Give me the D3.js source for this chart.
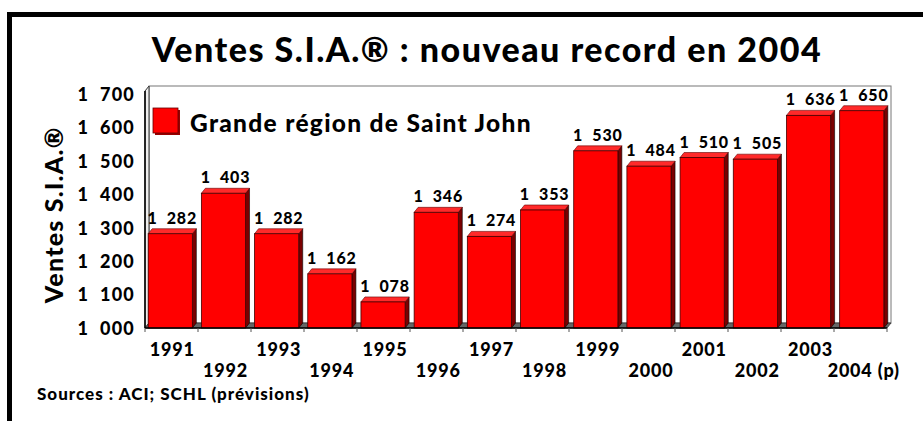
<!DOCTYPE html>
<html>
<head>
<meta charset="utf-8">
<script src="https://cdn.jsdelivr.net/npm/d3@7"></script>
<style>
  body { margin: 0; background: #fff; }
  text { font-family: Lato, "Open Sans", sans-serif; font-weight: 900; fill: #000; }
</style>
</head>
<body>
<div id="chart"></div>
<script>
// data
var years = ["1991", "1992", "1993", "1994", "1995", "1996", "1997",
             "1998", "1999", "2000", "2001", "2002", "2003", "2004 (p)"]
var sales = [1282, 1403, 1282, 1162, 1078, 1346, 1274,
             1353, 1530, 1484, 1510, 1505, 1636, 1650]
var yTicks = [1000, 1100, 1200, 1300, 1400, 1500, 1600, 1700]

var width = 923
    height = 421
    dx = 4      // depth of the 3d effect
    dy = 5

// space as thousands separator, like the original
function fmt(v) {
	var s = String(v)
	return s.slice(0, 1) + "\u00a0\u00a0" + s.slice(1)
}

var svg = d3.select("#chart")
	.append("svg")
	.attr("width", width)
	.attr("height", height)

// outer frame
svg.append("rect")
	.attr("x", 9.5).attr("y", 14.5)
	.attr("width", 940).attr("height", 430)
	.attr("fill", "none")
	.attr("stroke", "black")
	.attr("stroke-width", 5)

var x = d3.scaleBand()
	.domain(years)
	.range([145, 887])
	.paddingInner(0.17)
	.paddingOuter(0.06)

var y = d3.scaleLinear()
	.domain([1000, 1700])
	.range([328, 94])

var x0 = 145, x1 = 887, yb = y(1000), yt = 86

// back wall
svg.append("rect")
	.attr("x", x0 + dx).attr("y", yt)
	.attr("width", x1 - x0).attr("height", yb - dy - yt)
	.attr("fill", "white")
	.attr("stroke", "#777")
	.attr("stroke-width", 1)

// left wall
svg.append("path")
	.attr("d", "M" + x0 + "," + yb + "L" + x0 + "," + (yt + dy) + "L" + (x0 + dx) + "," + yt + "L" + (x0 + dx) + "," + (yb - dy) + "Z")
	.attr("fill", "#eee")
	.attr("stroke", "#333")
	.attr("stroke-width", 1)

// floor
svg.append("path")
	.attr("d", "M" + x0 + "," + yb + "L" + x1 + "," + yb + "L" + (x1 + dx) + "," + (yb - dy) + "L" + (x0 + dx) + "," + (yb - dy) + "Z")
	.attr("fill", "#666")
	.attr("stroke", "#333")
	.attr("stroke-width", 0.8)

var bars = svg.selectAll(".bar")
	.data(years)
	.enter()
	.append("g")
	.attr("class", "bar")

// side face
bars.append("path")
	.attr("d", function(d, i) {
		var xr = x(d) + x.bandwidth(), yv = y(sales[i])
		return "M" + xr + "," + yb + "L" + xr + "," + yv + "L" + (xr + dx) + "," + (yv - dy) + "L" + (xr + dx) + "," + (yb - dy) + "Z"
	})
	.attr("fill", "#7a0000")
	.attr("stroke", "#000")
	.attr("stroke-width", 0.6)

// top face
bars.append("path")
	.attr("d", function(d, i) {
		var xl = x(d), xr = xl + x.bandwidth(), yv = y(sales[i])
		return "M" + xl + "," + yv + "L" + xr + "," + yv + "L" + (xr + dx) + "," + (yv - dy) + "L" + (xl + dx) + "," + (yv - dy) + "Z"
	})
	.attr("fill", "#ff2a2a")
	.attr("stroke", "#600")
	.attr("stroke-width", 0.6)

// front face
bars.append("rect")
	.attr("x", function(d) { return x(d) })
	.attr("y", function(d, i) { return y(sales[i]) })
	.attr("width", x.bandwidth())
	.attr("height", function(d, i) { return yb - y(sales[i]) })
	.attr("fill", "#ff0000")
	.attr("stroke", "#400")
	.attr("stroke-width", 0.8)

// value labels
bars.append("text")
	.attr("x", function(d) { return x(d) + x.bandwidth() / 2 + 2 })
	.attr("y", function(d, i) { return y(sales[i]) - 10 })
	.attr("text-anchor", "middle")
	.attr("font-size", 16)
	.attr("letter-spacing", 0.8)
	.text(function(d, i) { return fmt(sales[i]) })

// x axis line and ticks
svg.append("line")
	.attr("x1", x0).attr("x2", x1)
	.attr("y1", yb).attr("y2", yb)
	.attr("stroke", "black")
	.attr("stroke-width", 1.5)

svg.selectAll(".xtick")
	.data(d3.range(years.length + 1))
	.enter()
	.append("line")
	.attr("x1", function(i) { return x0 + i * (x1 - x0) / years.length })
	.attr("x2", function(i) { return x0 + i * (x1 - x0) / years.length })
	.attr("y1", yb).attr("y2", yb + 4)
	.attr("stroke", "#555")

// year labels, staggered on two rows
svg.selectAll(".year")
	.data(years)
	.enter()
	.append("text")
	.attr("x", function(d) { return x(d) + x.bandwidth() / 2 + 2 })
	.attr("y", function(d, i) { return i % 2 == 0 ? 356 : 377 })
	.attr("text-anchor", "middle")
	.attr("font-size", 18)
	.attr("letter-spacing", 0.8)
	.text(function(d) { return d })

// y axis
var yAxis = svg.append("g")
	.attr("transform", "translate(" + x0 + ",0)")
	.call(d3.axisLeft(y).tickValues(yTicks).tickSize(0).tickPadding(10).tickFormat(fmt))
yAxis.select(".domain").remove()
yAxis.selectAll("text")
	.attr("font-size", 18)
	.attr("letter-spacing", 1.2)
	.attr("dy", "0.35em")
	.style("font-family", "Lato, sans-serif")
	.style("font-weight", "900")

svg.append("line")
	.attr("x1", x0).attr("x2", x0)
	.attr("y1", yt + dy).attr("y2", yb)
	.attr("stroke", "black")
	.attr("stroke-width", 1.5)

// y title
svg.append("text")
	.attr("transform", "translate(63,215) rotate(-90)")
	.attr("text-anchor", "middle")
	.attr("font-size", 25)
	.attr("letter-spacing", 1.2)
	.text("Ventes S.I.A.®")

// title
svg.append("text")
	.attr("x", 487)
	.attr("y", 62)
	.attr("text-anchor", "middle")
	.attr("font-size", 34)
	.attr("letter-spacing", 1.5)
	.text("Ventes S.I.A.® : nouveau record en 2004")

// legend
svg.append("rect")
	.attr("x", 155).attr("y", 110)
	.attr("width", 25).attr("height", 25)
	.attr("fill", "#990000")
svg.append("rect")
	.attr("x", 153).attr("y", 108)
	.attr("width", 25).attr("height", 25)
	.attr("fill", "#ff0000")
	.attr("stroke", "#600")
	.attr("stroke-width", 0.8)
svg.append("text")
	.attr("x", 190)
	.attr("y", 132)
	.attr("font-size", 24.5)
	.attr("letter-spacing", 1.3)
	.text("Grande région de Saint John")

// source
svg.append("text")
	.attr("x", 37)
	.attr("y", 400)
	.attr("font-size", 17)
	.attr("letter-spacing", 1)
	.text("Sources : ACI; SCHL (prévisions)")
</script>
</body>
</html>
